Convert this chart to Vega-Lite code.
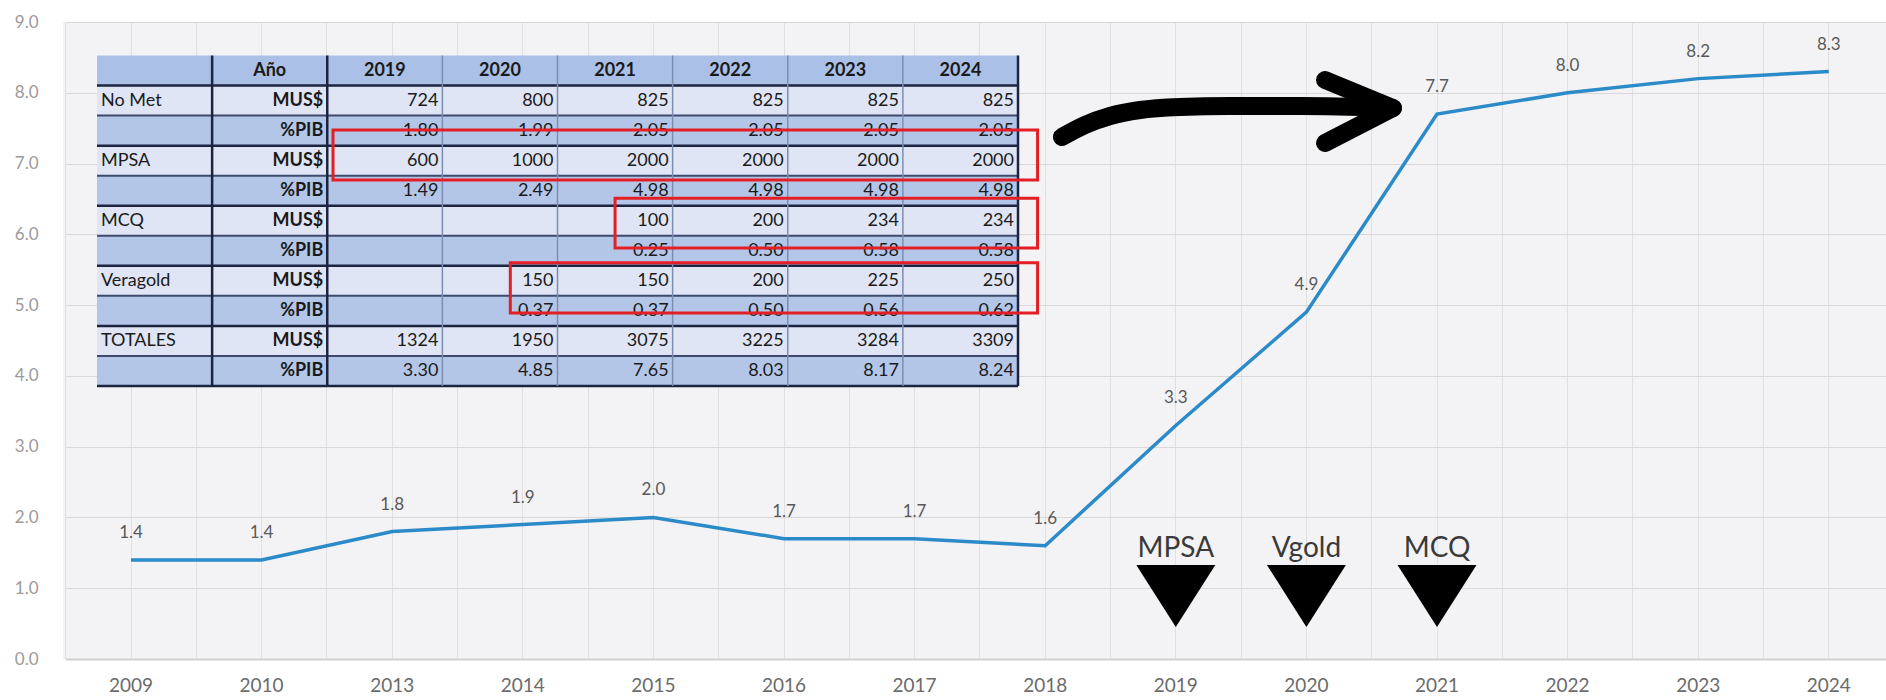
{
  "$schema": "https://vega.github.io/schema/vega-lite/v6.json",
  "width": 1823,
  "height": 637,
  "autosize": {"type": "none"},
  "padding": {"left": 63, "top": 22, "right": 0, "bottom": 41},
  "background": "#ffffff",
  "config": {"view": {"fill": "#f3f3f5", "stroke": null}, "font": "Lato"},
  "datasets": {
    "series": [
      {"year": "2009", "value": 1.4},
      {"year": "2010", "value": 1.4},
      {"year": "2013", "value": 1.8},
      {"year": "2014", "value": 1.9},
      {"year": "2015", "value": 2.0},
      {"year": "2016", "value": 1.7},
      {"year": "2017", "value": 1.7},
      {"year": "2018", "value": 1.6},
      {"year": "2019", "value": 3.3},
      {"year": "2020", "value": 4.9},
      {"year": "2021", "value": 7.7},
      {"year": "2022", "value": 8.0},
      {"year": "2023", "value": 8.2},
      {"year": "2024", "value": 8.3}
    ],
    "events": [
      {"year": "2019", "label": "MPSA"},
      {"year": "2020", "label": "Vgold"},
      {"year": "2021", "label": "MCQ"}
    ],
    "table": [
      {"r": 0, "k": "hdr", "c0": "", "c1": "Año", "c2": "2019", "c3": "2020", "c4": "2021", "c5": "2022", "c6": "2023", "c7": "2024"},
      {"r": 1, "k": "mus", "c0": "No Met", "c1": "MUS$", "c2": "724", "c3": "800", "c4": "825", "c5": "825", "c6": "825", "c7": "825"},
      {"r": 2, "k": "pib", "c0": "", "c1": "%PIB", "c2": "1.80", "c3": "1.99", "c4": "2.05", "c5": "2.05", "c6": "2.05", "c7": "2.05"},
      {"r": 3, "k": "mus", "c0": "MPSA", "c1": "MUS$", "c2": "600", "c3": "1000", "c4": "2000", "c5": "2000", "c6": "2000", "c7": "2000"},
      {"r": 4, "k": "pib", "c0": "", "c1": "%PIB", "c2": "1.49", "c3": "2.49", "c4": "4.98", "c5": "4.98", "c6": "4.98", "c7": "4.98"},
      {"r": 5, "k": "mus", "c0": "MCQ", "c1": "MUS$", "c2": "", "c3": "", "c4": "100", "c5": "200", "c6": "234", "c7": "234"},
      {"r": 6, "k": "pib", "c0": "", "c1": "%PIB", "c2": "", "c3": "", "c4": "0.25", "c5": "0.50", "c6": "0.58", "c7": "0.58"},
      {"r": 7, "k": "mus", "c0": "Veragold", "c1": "MUS$", "c2": "", "c3": "150", "c4": "150", "c5": "200", "c6": "225", "c7": "250"},
      {"r": 8, "k": "pib", "c0": "", "c1": "%PIB", "c2": "", "c3": "0.37", "c4": "0.37", "c5": "0.50", "c6": "0.56", "c7": "0.62"},
      {"r": 9, "k": "mus", "c0": "TOTALES", "c1": "MUS$", "c2": "1324", "c3": "1950", "c4": "3075", "c5": "3225", "c6": "3284", "c7": "3309"},
      {"r": 10, "k": "pib", "c0": "", "c1": "%PIB", "c2": "3.30", "c3": "4.85", "c4": "7.65", "c5": "8.03", "c6": "8.17", "c7": "8.24"}
    ],
    "hlines": [
      {"b": 1, "w": "major"}, {"b": 2, "w": "minor"}, {"b": 3, "w": "major"}, {"b": 4, "w": "minor"},
      {"b": 5, "w": "major"}, {"b": 6, "w": "minor"}, {"b": 7, "w": "major"}, {"b": 8, "w": "minor"},
      {"b": 9, "w": "major"}, {"b": 10, "w": "minor"}, {"b": 11, "w": "major"}
    ],
    "vlines": [
      {"b": 1, "w": "major"}, {"b": 2, "w": "major"}, {"b": 3, "w": "thin"}, {"b": 4, "w": "thin"},
      {"b": 5, "w": "thin"}, {"b": 6, "w": "thin"}, {"b": 7, "w": "thin"}, {"b": 8, "w": "major"}
    ],
    "boxes": [
      {"x0": 2.05, "x1": 8.17, "y0": 2.48, "y1": 4.14},
      {"x0": 4.5, "x1": 8.17, "y0": 4.75, "y1": 6.41},
      {"x0": 3.59, "x1": 8.17, "y0": 6.9, "y1": 8.57}
    ],
    "arrow": [
      {"part": "shaft", "i": 0, "cx": 8.382, "cy": 2.712},
      {"part": "shaft", "i": 1, "cx": 8.582, "cy": 2.313},
      {"part": "shaft", "i": 2, "cx": 8.8, "cy": 2.013},
      {"part": "shaft", "i": 3, "cx": 9.06, "cy": 1.814},
      {"part": "shaft", "i": 4, "cx": 9.407, "cy": 1.714},
      {"part": "shaft", "i": 5, "cx": 9.841, "cy": 1.681},
      {"part": "shaft", "i": 6, "cx": 10.449, "cy": 1.681},
      {"part": "shaft", "i": 7, "cx": 11.231, "cy": 1.747},
      {"part": "up", "i": 0, "cx": 10.667, "cy": 0.815},
      {"part": "up", "i": 1, "cx": 11.257, "cy": 1.747},
      {"part": "down", "i": 0, "cx": 10.667, "cy": 2.912},
      {"part": "down", "i": 1, "cx": 11.257, "cy": 1.747}
    ]
  },
  "layer": [
    {
      "layer": [
        {
          "data": {"name": "series"},
          "mark": {"type": "line", "stroke": "#2b8ac8", "strokeWidth": 3.5},
          "encoding": {
            "x": {"field": "year", "type": "ordinal",
              "scale": {"type": "band", "domain": ["2009","2010","2013","2014","2015","2016","2017","2018","2019","2020","2021","2022","2023","2024"], "range": [2.7, 1831.1], "paddingInner": 0, "paddingOuter": 0},
              "axis": {"title": null, "labelAngle": 0, "labelFontSize": 19, "labelColor": "#6b6b6b", "ticks": false, "domainColor": "#cfcfcf", "domainWidth": 2, "grid": true, "gridColor": "#e0e0e0", "bandPosition": 0.5, "labelPadding": 17, "labelBaseline": "top"}},
            "y": {"field": "value", "type": "quantitative",
              "scale": {"domain": [0, 9], "nice": false},
              "axis": {"title": null, "values": [0,1,2,3,4,5,6,7,8,9], "format": ".1f", "grid": true, "gridColor": "#d8d8d8", "domain": false, "ticks": false, "labelColor": "#9a9a9a", "labelFontSize": 17, "labelPadding": 25}}
          }
        },
        {
          "data": {"name": "series"},
          "mark": {"type": "text", "fontSize": 17, "color": "#595959", "baseline": "middle", "dy": -27},
          "encoding": {
            "x": {"field": "year", "type": "ordinal",
              "axis": {"title": null, "labels": false, "ticks": false, "domain": false, "grid": true, "gridColor": "#e0e0e0", "bandPosition": 0}},
            "y": {"field": "value", "type": "quantitative"},
            "text": {"field": "value", "type": "quantitative", "format": ".1f"}
          }
        },
        {
          "data": {"name": "events"},
          "mark": {"type": "point", "shape": "M-1,-0.785L1,-0.785L0,0.785Z", "size": 6241, "filled": true, "fill": "#000000", "opacity": 1, "strokeWidth": 0},
          "encoding": {
            "x": {"field": "year", "type": "ordinal", "axis": null},
            "y": {"datum": 0.89, "type": "quantitative"}
          }
        },
        {
          "data": {"name": "events"},
          "mark": {"type": "text", "fontSize": 28, "color": "#3a3a3a", "baseline": "alphabetic"},
          "encoding": {
            "x": {"field": "year", "type": "ordinal", "axis": null},
            "y": {"datum": 1.44, "type": "quantitative"},
            "text": {"field": "label"}
          }
        }
      ],
      "resolve": {"axis": {"x": "independent"}}
    },
    {
      "data": {"name": "table"},
      "transform": [{"fold": ["c0","c1","c2","c3","c4","c5","c6","c7"], "as": ["col", "txt"]}],
      "encoding": {
        "x": {"field": "col", "type": "ordinal", "axis": null,
          "scale": {"type": "band", "domain": ["c0","c1","c2","c3","c4","c5","c6","c7"], "range": [34, 955], "paddingInner": 0, "paddingOuter": 0}},
        "y": {"field": "r", "type": "ordinal", "axis": null,
          "scale": {"type": "band", "domain": [0,1,2,3,4,5,6,7,8,9,10], "range": [33.5, 364], "paddingInner": 0, "paddingOuter": 0}}
      },
      "layer": [
        {
          "mark": {"type": "rect"},
          "encoding": {
            "fill": {"field": "k", "type": "nominal", "legend": null,
              "scale": {"domain": ["hdr","mus","pib"], "range": ["#abc0e6","#dfe5f4","#b4c6e8"]}}
          }
        },
        {
          "transform": [{"filter": "datum.r == 0"}],
          "mark": {"type": "text", "fontSize": 18, "fontWeight": "bold", "color": "#1a1a1a", "align": "center", "baseline": "middle"},
          "encoding": {"text": {"field": "txt"}}
        },
        {
          "transform": [{"filter": "datum.r > 0 && datum.col == 'c0'"}],
          "mark": {"type": "text", "fontSize": 18, "color": "#1a1a1a", "align": "left", "baseline": "middle", "dx": 4},
          "encoding": {"x": {"field": "col", "type": "ordinal", "bandPosition": 0}, "text": {"field": "txt"}}
        },
        {
          "transform": [{"filter": "datum.r > 0 && datum.col == 'c1'"}],
          "mark": {"type": "text", "fontSize": 18, "fontWeight": "bold", "color": "#1a1a1a", "align": "right", "baseline": "middle", "dx": -4},
          "encoding": {"x": {"field": "col", "type": "ordinal", "bandPosition": 1}, "text": {"field": "txt"}}
        },
        {
          "transform": [{"filter": "datum.r > 0 && datum.col != 'c0' && datum.col != 'c1'"}],
          "mark": {"type": "text", "fontSize": 18, "color": "#1a1a1a", "align": "right", "baseline": "middle", "dx": -4},
          "encoding": {"x": {"field": "col", "type": "ordinal", "bandPosition": 1}, "text": {"field": "txt"}}
        }
      ]
    },
    {
      "layer": [
        {
          "data": {"name": "hlines"},
          "mark": {"type": "rule"},
          "encoding": {
            "y": {"field": "b", "type": "quantitative", "axis": null, "scale": {"domain": [0, 11], "range": [33.5, 364], "nice": false, "zero": false}},
            "x": {"datum": 0, "type": "quantitative", "axis": null, "scale": {"domain": [0, 8], "range": [34, 955], "nice": false, "zero": false}},
            "x2": {"datum": 8},
            "color": {"field": "w", "type": "nominal", "legend": null, "scale": {"domain": ["major","minor","thin"], "range": ["#1c2440","#3e4a6b","#7d8db0"]}},
            "strokeWidth": {"field": "w", "type": "ordinal", "legend": null, "scale": {"domain": ["major","minor","thin"], "range": [2.5, 1.5, 1]}}
          }
        },
        {
          "data": {"name": "vlines"},
          "mark": {"type": "rule"},
          "encoding": {
            "x": {"field": "b", "type": "quantitative"},
            "y": {"datum": 0, "type": "quantitative"},
            "y2": {"datum": 11},
            "color": {"field": "w", "type": "nominal", "legend": null},
            "strokeWidth": {"field": "w", "type": "ordinal", "legend": null}
          }
        },
        {
          "data": {"name": "boxes"},
          "mark": {"type": "rect", "filled": false, "fillOpacity": 0, "stroke": "#e31e24", "strokeWidth": 3},
          "encoding": {
            "x": {"field": "x0", "type": "quantitative"},
            "x2": {"field": "x1"},
            "y": {"field": "y0", "type": "quantitative"},
            "y2": {"field": "y1"}
          }
        },
        {
          "data": {"name": "arrow"},
          "mark": {"type": "line", "color": "#000000", "strokeWidth": 18, "strokeCap": "round", "strokeJoin": "round", "interpolate": "monotone"},
          "encoding": {
            "x": {"field": "cx", "type": "quantitative"},
            "y": {"field": "cy", "type": "quantitative"},
            "detail": {"field": "part"},
            "order": {"field": "i", "type": "quantitative"}
          }
        }
      ]
    }
  ],
  "resolve": {"scale": {"x": "independent", "y": "independent"}, "axis": {"x": "independent", "y": "independent"}}
}
